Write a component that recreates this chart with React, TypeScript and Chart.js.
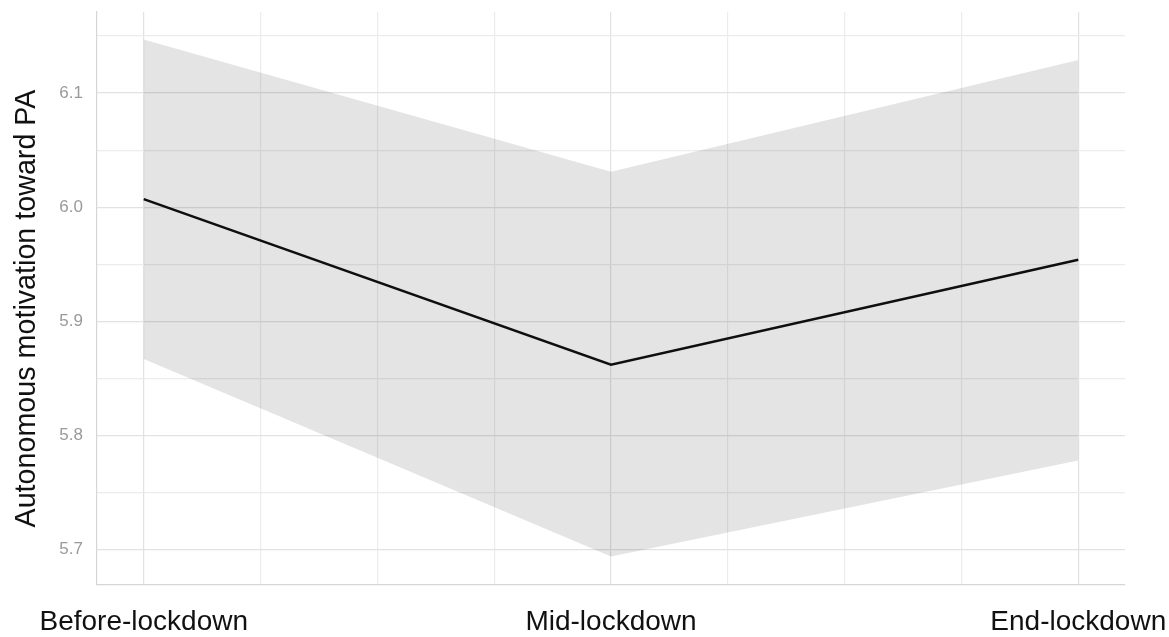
import React, { useEffect, useRef } from "react";
import { Chart, registerables } from "chart.js";

Chart.register(...registerables);

const categories = ["Before-lockdown", "Mid-lockdown", "End-lockdown"];
const timePoints = [1, 2, 3];
const meanValues = [6.007, 5.862, 5.954];
const upperCI = [6.147, 6.031, 6.129];
const lowerCI = [5.867, 5.694, 5.778];

const yMajorTicks = [5.7, 5.8, 5.9, 6.0, 6.1];
const yMinorTicks = [5.75, 5.85, 5.95, 6.05, 6.15];
const yTickLabels = ["5.7", "5.8", "5.9", "6.0", "6.1"];
const xMinorTicks = [1.25, 1.5, 1.75, 2.25, 2.5, 2.75];

const yTitle = "Autonomous motivation toward PA";

const FONT = "'Liberation Sans', Arial, Helvetica, sans-serif";

const yTitlePlugin = {
  id: "yTitlePlugin",
  afterDraw(chart: any) {
    const { ctx, chartArea } = chart;
    ctx.save();
    ctx.translate(35, (chartArea.top + chartArea.bottom) / 2 + 10);
    ctx.rotate(-Math.PI / 2);
    ctx.font = `28.7px ${FONT}`;
    ctx.fillStyle = "#111111";
    ctx.textAlign = "center";
    ctx.textBaseline = "alphabetic";
    ctx.fillText(yTitle, 0, 0);
    ctx.restore();
  },
};

export default function App() {
  const ref = useRef<HTMLCanvasElement | null>(null);

  useEffect(() => {
    if (!ref.current) return;
    const pts = (vals: number[]) => timePoints.map((t, i) => ({ x: t, y: vals[i] }));
    const chart = new Chart(ref.current, {
      type: "line",
      data: {
        datasets: [
          {
            label: "upper",
            data: pts(upperCI),
            borderWidth: 0,
            pointRadius: 0,
            fill: "+1",
            backgroundColor: "rgba(0,0,0,0.105)",
            borderColor: "rgba(0,0,0,0)",
            tension: 0,
          },
          {
            label: "lower",
            data: pts(lowerCI),
            borderWidth: 0,
            pointRadius: 0,
            fill: false,
            borderColor: "rgba(0,0,0,0)",
            tension: 0,
          },
          {
            label: "mean",
            data: pts(meanValues),
            borderWidth: 2.5,
            borderColor: "#111111",
            pointRadius: 0,
            fill: false,
            tension: 0,
          },
        ],
      },
      plugins: [yTitlePlugin],
      options: {
        animation: false,
        responsive: true,
        maintainAspectRatio: false,
        layout: { padding: { top: 12, right: 44, left: 0, bottom: 0 } },
        plugins: {
          legend: { display: false },
          tooltip: { enabled: false },
        },
        scales: {
          x: {
            type: "linear",
            min: 0.9,
            max: 3.1,
            afterBuildTicks: (scale: any) => {
              scale.ticks = [...timePoints, ...xMinorTicks]
                .sort((a, b) => a - b)
                .map((v) => ({ value: v }));
            },
            afterFit: (scale: any) => {
              scale.height = 52;
              scale.paddingLeft = 0;
              scale.paddingRight = 0;
            },
            grid: {
              drawTicks: false,
              color: (ctx: any) =>
                timePoints.includes(ctx.tick?.value) ? "#e2e2e2" : "#ececec",
              lineWidth: 1.2,
            },
            border: { display: true, color: "#d6d6d6", width: 1.2 },
            ticks: {
              autoSkip: false,
              maxRotation: 0,
              padding: 20,
              color: "#111111",
              font: { family: FONT, size: 28 },
              callback: (v: any) => {
                const idx = timePoints.indexOf(Number(v));
                return idx >= 0 ? categories[idx] : "";
              },
            },
          },
          y: {
            type: "linear",
            min: 5.669,
            max: 6.171,
            afterBuildTicks: (scale: any) => {
              scale.ticks = [...yMajorTicks, ...yMinorTicks]
                .sort((a, b) => a - b)
                .map((v) => ({ value: v }));
            },
            afterFit: (scale: any) => {
              scale.width = 97;
              scale.paddingTop = 0;
              scale.paddingBottom = 0;
            },
            grid: {
              drawTicks: false,
              color: (ctx: any) =>
                yMajorTicks.some((m) => Math.abs(m - (ctx.tick?.value ?? -1)) < 1e-6)
                  ? "#e2e2e2"
                  : "#ececec",
              lineWidth: 1.2,
            },
            border: { display: true, color: "#d6d6d6", width: 1.2 },
            title: { display: false },
            ticks: {
              autoSkip: false,
              padding: 14,
              color: "#9a9a9a",
              font: { family: FONT, size: 17 },
              callback: (v: any) => {
                const idx = yMajorTicks.findIndex((m) => Math.abs(m - Number(v)) < 1e-6);
                return idx >= 0 ? yTickLabels[idx] : "";
              },
            },
          },
        },
      },
    });
    return () => chart.destroy();
  }, []);

  return (
    <div
      style={{
        position: "absolute",
        left: 0,
        top: 0,
        width: 1169,
        height: 637,
        background: "#ffffff",
      }}
    >
      <canvas ref={ref} />
    </div>
  );
}
